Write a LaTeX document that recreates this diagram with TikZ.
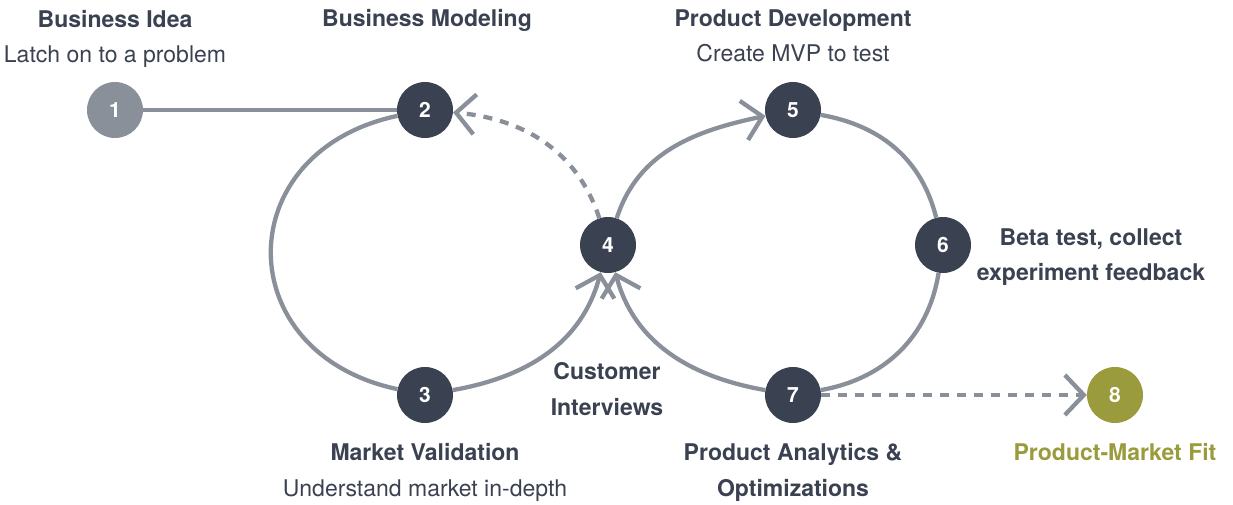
\documentclass[tikz,border=0pt]{standalone}
\usepackage{fontspec}
\setmainfont{TeX Gyre Heros}
\usetikzlibrary{arrows.meta}
\definecolor{slate}{HTML}{3A4150}
\definecolor{steel}{HTML}{8A9099}
\definecolor{fitgreen}{HTML}{9A9B3C}

\tikzset{%
  stage/.style={circle, fill=slate, minimum size=56pt, inner sep=0pt, text=white, font=\fontsize{21}{24}\selectfont\bfseries},
  start/.style={stage, fill=steel},
  goal/.style={stage, fill=fitgreen},
  headline/.style={anchor=base, text=slate, inner sep=0pt, font=\fontsize{23}{28}\selectfont\bfseries},
  note/.style={headline, font=\fontsize{23}{28}\selectfont},
  line/.style={draw, line width=4.3pt, color=steel},
  arrowline/.style={line, -{Straight Barb[length=19pt,width=40pt]}},
  linepart/.style={arrowline, dash pattern=on 9pt off 8pt},
}

\begin{document}
\begin{tikzpicture}[x=1pt, y=1pt]
\useasboundingbox (0,0) rectangle (1233,-505);
% stages
\node[start] (1) at (115,-110) {1};
\node[stage] (2) at (425,-110) {2};
\node[stage] (3) at (425,-395) {3};
\node[stage] (4) at (608,-245) {4};
\node[stage] (5) at (793,-110) {5};
\node[stage] (6) at (943,-245) {6};
\node[stage] (7) at (793,-395) {7};
\node[goal] (8) at (1115,-395) {8};
% texts
\node[headline] (t1) at (115,-28) {Business Idea};
\node[note] (s1) at (115,-63) {Latch on to a problem};
\node[headline] (t2) at (427,-27) {Business Modeling};
\node[headline] (t3) at (425,-460) {Market Validation};
\node[note] (s3) at (425,-496) {Understand market in-depth};
\node[headline] (t4) at (607,-379) {Customer};
\node[headline] (s4) at (607,-415) {Interviews};
\node[headline] (t5) at (793,-27) {Product Development};
\node[note] (s5) at (793,-62) {Create MVP to test};
\node[headline] (t6) at (1091,-245) {Beta test, collect};
\node[headline] (s6) at (1091,-280) {experiment feedback};
\node[headline] (t7) at (793,-460) {Product Analytics \&};
\node[headline] (s7) at (793,-496) {Optimizations};
\node[headline, text=fitgreen] (t8) at (1115,-460) {Product-Market Fit};
% connectors
\draw[line] (1) -- (2);
\draw[line] (2) to[out=192, in=168, looseness=1.62] (3);
\draw[arrowline] (3) to[out=10, in=-105] (4);
\draw[arrowline] (7) to[out=170, in=-75] (4);
\draw[arrowline] (4) to[out=72, in=192] (5);
\draw[line] (5) to[out=-10, in=104] (6);
\draw[line] (6) to[out=-99, in=10] (7);
\draw[linepart] (4) to[out=108, in=-5] (2);
\draw[linepart] (7) -- (8);
\end{tikzpicture}
\end{document}
